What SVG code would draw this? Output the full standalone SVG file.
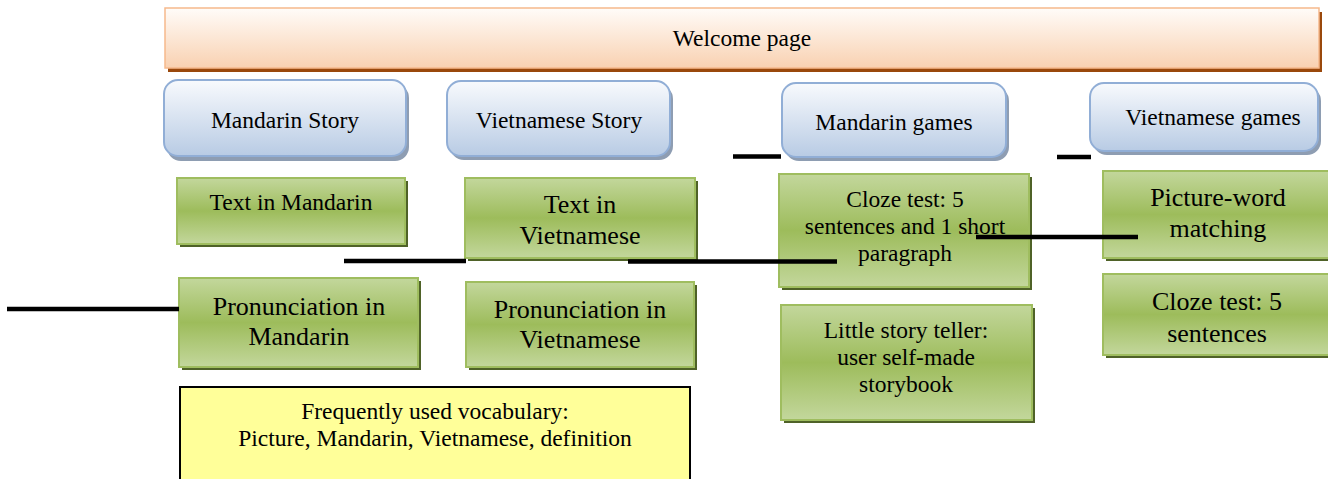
<svg xmlns="http://www.w3.org/2000/svg" width="1328" height="479" viewBox="0 0 1328 479" font-family="'Liberation Serif', 'Times New Roman', serif">
<style>
text{font-family:'Liberation Serif','Times New Roman',serif;fill:#000;text-anchor:middle}
.s{font-size:23.5px}
.b{font-size:26px}
.orange{fill:url(#gOrange);stroke:#f6b98c;stroke-width:1.5}
.oshadow{fill:#9a480c}
.blue{fill:url(#gBlue);stroke:#91aed6;stroke-width:2}
.bshadow{fill:#8e9db2}
.green{fill:url(#gGreen);stroke:#9fbd5f;stroke-width:2}
.gshadow{fill:#4f6228}
.yellow{fill:#ffff99;stroke:#000;stroke-width:2}
.conn{stroke:#000;stroke-width:4.5;fill:none}
</style>
<defs>
<linearGradient id="gOrange" x1="0" y1="0" x2="0" y2="1">
<stop offset="0" stop-color="#fffcf9"/>
<stop offset="1" stop-color="#f9d1b1"/>
</linearGradient>
<linearGradient id="gBlue" x1="0" y1="0" x2="0" y2="1">
<stop offset="0" stop-color="#f8fafd"/>
<stop offset="1" stop-color="#b8cbe4"/>
</linearGradient>
<linearGradient id="gGreen" x1="0" y1="0" x2="0" y2="1">
<stop offset="0" stop-color="#c3d79c"/>
<stop offset="0.5" stop-color="#9dbc5b"/>
<stop offset="1" stop-color="#c3d79c"/>
</linearGradient>
</defs>

<g id="welcome">
<rect class="oshadow" x="168" y="12" width="1154" height="60"/>
<rect class="orange" x="165" y="8" width="1154" height="60"/>
<text class="s" x="742" y="46">Welcome page</text>
</g>

<g id="mandarin-story">
<rect class="bshadow" x="167" y="84" width="242" height="77" rx="14"/>
<rect class="blue" x="164" y="80" width="242" height="76" rx="14"/>
<text class="s" x="285" y="128">Mandarin Story</text>
</g>

<g id="vietnamese-story">
<rect class="bshadow" x="450" y="85" width="223" height="75" rx="14"/>
<rect class="blue" x="447" y="81" width="223" height="75" rx="14"/>
<text class="s" x="559" y="128">Vietnamese Story</text>
</g>

<g id="mandarin-games">
<rect class="bshadow" x="785" y="87" width="224" height="74" rx="14"/>
<rect class="blue" x="782" y="83" width="224" height="74" rx="14"/>
<text class="s" x="894" y="130">Mandarin games</text>
</g>

<g id="vietnamese-games">
<rect class="bshadow" x="1093" y="87" width="228" height="68" rx="14"/>
<rect class="blue" x="1090" y="83" width="228" height="68" rx="14"/>
<text class="s" x="1213" y="125">Vietnamese games</text>
</g>

<g id="text-mandarin">
<rect class="gshadow" x="180" y="181" width="228" height="66"/>
<rect class="green" x="177" y="178" width="228" height="66"/>
<text class="s" x="291" y="210">Text in Mandarin</text>
</g>

<g id="text-vietnamese">
<rect class="gshadow" x="468" y="181" width="230" height="80"/>
<rect class="green" x="465" y="178" width="230" height="80"/>
<text class="b" x="580" y="213">Text in</text>
<text class="b" x="580" y="244">Vietnamese</text>
</g>

<g id="cloze-mandarin">
<rect class="gshadow" x="782" y="177" width="250" height="113"/>
<rect class="green" x="779" y="174" width="250" height="113"/>
<text class="s" x="905" y="207">Cloze test: 5</text>
<text class="s" x="905" y="234">sentences and 1 short</text>
<text class="s" x="905" y="261">paragraph</text>
</g>

<g id="picture-word">
<rect class="gshadow" x="1106" y="174" width="230" height="87"/>
<rect class="green" x="1103" y="171" width="230" height="87"/>
<text class="b" x="1218" y="206">Picture-word</text>
<text class="b" x="1218" y="237">matching</text>
</g>

<g id="pron-mandarin">
<rect class="gshadow" x="182" y="281" width="239" height="89"/>
<rect class="green" x="179" y="278" width="239" height="89"/>
<text class="b" x="299" y="315">Pronunciation in</text>
<text class="b" x="299" y="345">Mandarin</text>
</g>

<g id="pron-vietnamese">
<rect class="gshadow" x="469" y="285" width="228" height="85"/>
<rect class="green" x="466" y="282" width="228" height="85"/>
<text class="b" x="580" y="318">Pronunciation in</text>
<text class="b" x="580" y="348">Vietnamese</text>
</g>

<g id="little-story">
<rect class="gshadow" x="784" y="308" width="251" height="115"/>
<rect class="green" x="781" y="305" width="251" height="115"/>
<text class="s" x="906" y="338">Little story teller:</text>
<text class="s" x="906" y="365">user self-made</text>
<text class="s" x="906" y="392">storybook</text>
</g>

<g id="cloze-vietnamese">
<rect class="gshadow" x="1106" y="277" width="230" height="81"/>
<rect class="green" x="1103" y="274" width="230" height="81"/>
<text class="b" x="1217" y="310">Cloze test: 5</text>
<text class="b" x="1217" y="342">sentences</text>
</g>

<g id="vocabulary">
<rect class="yellow" x="180" y="387" width="510" height="100"/>
<text class="s" x="435" y="419">Frequently used vocabulary:</text>
<text class="s" x="435" y="446">Picture, Mandarin, Vietnamese, definition</text>
</g>

<g id="connectors">
<line class="conn" x1="733" y1="156.5" x2="781" y2="156.5"/>
<line class="conn" x1="1057" y1="157" x2="1091" y2="157"/>
<line class="conn" x1="344" y1="261" x2="466" y2="261"/>
<line class="conn" x1="628" y1="261.5" x2="837" y2="261.5"/>
<line class="conn" x1="976" y1="237" x2="1138" y2="237"/>
<line class="conn" x1="7" y1="309" x2="179" y2="309"/>
</g>
</svg>
